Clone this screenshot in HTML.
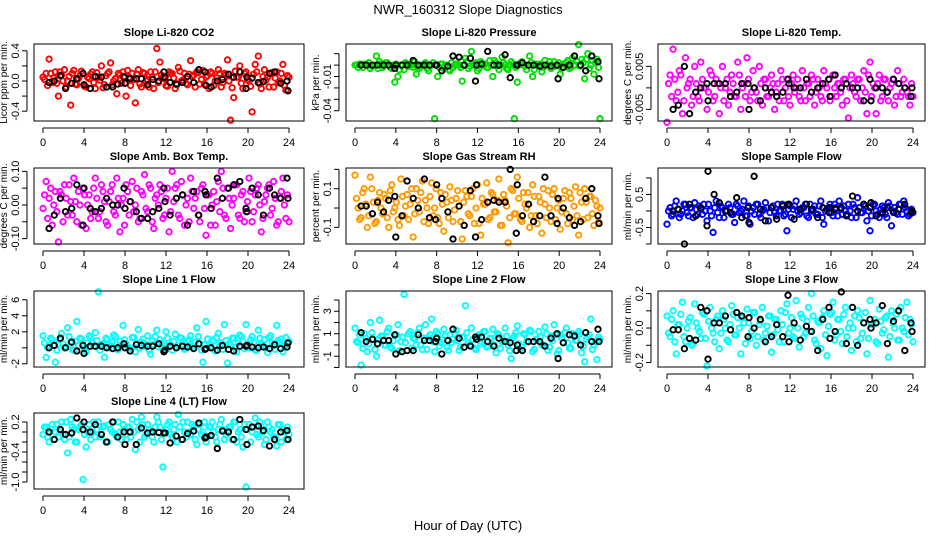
<!DOCTYPE html>
<html><head><meta charset="utf-8"><style>
body{margin:0;background:#fff}
svg{display:block;font-family:"Liberation Sans",sans-serif}
</style></head><body>
<svg id="chart" width="936" height="540" viewBox="0 0 936 540" xmlns="http://www.w3.org/2000/svg">
<rect width="936" height="540" fill="#fff"/>
<text x="468" y="14" text-anchor="middle" font-size="13">NWR_160312  Slope Diagnostics</text>
<text x="468" y="530" text-anchor="middle" font-size="13">Hour of Day (UTC)</text>
<g id="panels"></g>
</svg>
<script>
const hours = [0,0.3,0.6,0.9,1.2,1.5,1.8,2.1,2.4,2.7,3,3.3,3.6,3.9,4.2,4.5,4.8,5.1,5.4,5.7,6,6.3,6.6,6.9,7.2,7.5,7.8,8.1,8.4,8.7,9,9.3,9.6,9.9,10.2,10.5,10.8,11.1,11.4,11.7,12,12.3,12.6,12.9,13.2,13.5,13.8,14.1,14.4,14.7,15,15.3,15.6,15.9,16.2,16.5,16.8,17.1,17.4,17.7,18,18.3,18.6,18.9,19.2,19.5,19.8,20.1,20.4,20.7,21,21.3,21.6,21.9,22.2,22.5,22.8,23.1,23.4,23.7,24];
const coreHours = [0.15,0.45,0.75,1.05,1.35,1.65,1.95,2.25,2.55,2.85,3.15,3.45,3.75,4.05,4.35,4.65,4.95,5.25,5.55,5.85,6.15,6.45,6.75,7.05,7.35,7.65,7.95,8.25,8.55,8.85,9.15,9.45,9.75,10.05,10.35,10.65,10.95,11.25,11.55,11.85,12.15,12.45,12.75,13.05,13.35,13.65,13.95,14.25,14.55,14.85,15.15,15.45,15.75,16.05,16.35,16.65,16.95,17.25,17.55,17.85,18.15,18.45,18.75,19.05,19.35,19.65,19.95,20.25,20.55,20.85,21.15,21.45,21.75,22.05,22.35,22.65,22.95,23.25,23.55,23.85];
const blackHours = [0.6,1.1,1.7,2.2,2.8,3.3,3.9,4.0,4.6,5.1,5.7,6.2,6.8,7.3,7.9,8.0,8.5,9.1,9.6,10.2,10.7,11.3,11.8,11.9,12.4,13.0,13.6,14.1,14.7,15.2,15.8,15.9,16.4,17.0,17.5,18.1,18.6,19.2,19.8,19.9,20.4,21.0,21.5,22.1,22.6,23.2,23.8,23.9];
const xTicks = [0,4,8,12,16,20,24];
const titles = ["Slope Li-820 CO2","Slope Li-820 Pressure","Slope Li-820 Temp.","Slope Amb. Box Temp.","Slope Gas Stream RH","Slope Sample Flow","Slope Line 1 Flow","Slope Line 2 Flow","Slope Line 3 Flow","Slope Line 4 (LT) Flow"];
const yTitles = ["Licor ppm per min.","kPa per min.","degrees C per min.","degrees C per min.","percent per min.","ml/min per min.","ml/min per min.","ml/min per min.","ml/min per min.","ml/min per min."];
const colors = ["#ff0000","#00dd00","#ff00ff","#ff00ff","#ff9900","#0000ff","#00ffff","#00ffff","#00ffff","#00ffff"];
const yDomains = [[0.49,-0.53],[0.0185,-0.049],[0.0102,-0.0077],[0.11,-0.116],[0.207,-0.186],[1.3,-1.0],[7.1,-2.4],[4.8,-1.96],[0.215,-0.226],[0.38,-1.14]];
const yTicks = [[0.4,0.2,0,-0.2,-0.4],[0.01,0,-0.01,-0.02,-0.03,-0.04],[0.005,0,-0.005],[0.1,0.05,0,-0.05,-0.1],[0.2,0.1,0,-0.1],[1,0.5,0,-0.5,-1],[6,4,2,0,-2],[4,3,2,1,0,-1,-2],[0.2,0.1,0,-0.1,-0.2],[0.2,0,-0.2,-0.4,-0.6,-0.8,-1.0]];
const yTickLabels = [[[0.4,"0.4"],[0,"0.0"],[-0.4,"-0.4"]],[[-0.01,"-0.01"],[-0.04,"-0.04"]],[[0.005,"0.005"],[-0.005,"-0.005"]],[[0.1,"0.10"],[0,"0.00"],[-0.1,"-0.10"]],[[0.1,"0.1"],[-0.1,"-0.1"]],[[0.5,"0.5"],[-0.5,"-0.5"]],[[6,"6"],[4,"4"],[2,"2"],[-2,"-2"]],[[3,"3"],[1,"1"],[-1,"-1"]],[[0.2,"0.2"],[0,"0.0"],[-0.2,"-0.2"]],[[0.2,"0.2"],[-0.4,"-0.4"],[-1.0,"-1.0"]]];

const co2 = [0.05,0.1,0.29,-0.02,0.12,-0.2,0.08,0.15,0.0,-0.32,0.14,-0.05,0.07,0.1,-0.08,0.03,0.12,-0.1,0.05,0.2,-0.05,0.1,0.24,0.0,-0.17,0.08,0.12,-0.2,0.05,0.1,-0.29,0.15,-0.08,0.1,0.02,0.12,-0.1,0.43,0.25,0.05,-0.06,0.12,0.1,-0.1,0.18,0.0,0.1,-0.05,0.27,0.08,0.12,-0.04,0.14,0.05,-0.1,0.1,0.0,0.15,-0.08,0.1,0.28,-0.52,-0.22,0.05,0.2,-0.1,0.12,0.0,-0.41,0.22,0.33,-0.1,0.15,0.05,0.1,-0.08,0.12,0.0,0.22,-0.12,0.05];
const co2Core = [0.02,-0.06,0.1,0.04,-0.03,0.12,0.0,-0.08,0.06,0.1,-0.04,0.03,0.13,-0.07,0.05,0.09,-0.02,0.11,0.01,-0.09,0.07,0.12,-0.05,0.03,0.1,-0.03,0.06,0.14,-0.06,0.02,0.09,-0.04,0.11,0.0,-0.08,0.05,0.12,-0.02,0.08,0.03,-0.07,0.1,0.04,-0.05,0.13,0.01,-0.03,0.09,0.06,-0.08,0.11,0.02,-0.04,0.07,0.12,-0.06,0.04,0.1,-0.02,0.08,0.0,-0.09,0.13,0.05,-0.03,0.1,0.02,-0.07,0.09,0.12,-0.04,0.06,0.01,-0.08,0.11,0.04,-0.02,0.1,-0.06,0.07];
const co2Black = [-0.02,0.0,0.07,-0.1,-0.03,0.03,0.1,-0.05,-0.1,0.06,0.05,-0.08,-0.08,-0.04,0.05,-0.03,0.03,0.03,0.03,-0.05,0.02,0.0,0.12,0.05,-0.02,-0.04,-0.02,0.06,-0.02,0.15,0.12,-0.06,-0.08,0.0,0.02,0.09,0.05,0.12,-0.1,0.05,0.04,-0.02,-0.01,0.1,0.12,-0.03,0.0,-0.13];
const pres = [0,-0.002,0,0.001,0,-0.003,0,0.008,0.003,-0.002,0.002,0,-0.003,-0.015,-0.01,0,-0.004,0.001,0,-0.002,-0.008,-0.003,0,0.002,-0.005,0,-0.047,-0.01,0.001,-0.003,0,-0.005,-0.002,0.001,0,-0.014,0.006,-0.003,0.012,0,-0.005,0.003,0,-0.002,0.004,-0.01,0.002,-0.004,0.007,0,-0.004,0.003,-0.047,-0.015,0.002,0,-0.004,0.008,-0.01,0.001,0,-0.006,0.004,0,-0.003,0.003,0,-0.008,0.001,0.002,-0.003,0.006,0,0.018,0.005,-0.012,0.01,0,-0.008,0.005,-0.047];
const presCore = [0,0.001,-0.002,0,0.002,-0.001,0,-0.003,0.001,0,0.002,-0.002,0,0.001,-0.004,0,0.002,-0.001,0,0.003,-0.002,0,0.001,-0.003,0,0.002,0,-0.002,0.001,0,-0.004,0.002,0,0.001,-0.002,0,0.003,-0.001,0,0.002,-0.003,0,0.001,-0.002,0,0.004,-0.001,0,0.002,-0.003,0,0.001,-0.002,0,0.003,-0.001,0,0.002,-0.004,0,0.001,-0.002,0,0.003,0,-0.001,0.002,-0.003,0,0.004,-0.002,0,0.003,-0.001,0.002,0.005,-0.003,0.004,0.002,-0.002];
const presBlack = [0,0,0,0,0,0,-0.003,0,0,0,0.004,0,0,0,0,0,-0.005,-0.001,0.008,0.007,0,0.006,-0.014,0,0.001,0.012,0,0,0.009,-0.011,0,0,0.002,0,0,-0.001,0,-0.001,0,-0.012,-0.002,0,0.008,0,-0.005,0.008,0.003,-0.012];
const ltemp = [-0.008,0.003,0.009,-0.003,0.004,-0.006,0.007,0.001,-0.004,0.005,-0.002,0.006,0.0,-0.005,0.004,-0.003,0.002,-0.006,0.005,0.0,-0.004,0.003,-0.002,0.006,-0.005,0.001,0.007,-0.003,0.004,-0.001,0.005,-0.004,0.002,-0.002,0.003,-0.005,0.001,0.004,-0.003,0.002,-0.004,0.003,0.0,-0.002,0.004,-0.003,0.001,0.003,-0.004,0.002,-0.002,0.004,0.0,-0.003,0.003,-0.002,0.001,-0.004,0.002,-0.007,0.003,-0.001,0.002,-0.003,0.004,-0.006,0.006,0.001,-0.006,0.003,-0.002,0.002,-0.003,0.001,-0.004,0.004,-0.002,0.002,-0.001,-0.004,-0.002];
const ltempCore = [0.001,-0.002,0.002,-0.001,0.003,-0.003,0.0,0.002,-0.002,0.001,-0.003,0.002,0.0,-0.001,0.003,-0.002,0.001,0.0,-0.003,0.002,-0.001,0.001,-0.002,0.003,0.0,-0.002,0.002,-0.001,0.0,-0.003,0.001,0.002,-0.002,0.0,0.001,-0.001,-0.003,0.002,0.0,-0.002,0.001,-0.001,0.002,-0.003,0.0,0.001,-0.002,0.002,-0.001,0.0,-0.003,0.001,0.002,-0.002,0.0,0.001,-0.001,0.002,-0.003,0.0,0.001,-0.002,0.002,0.0,-0.001,0.003,-0.002,0.0,0.001,-0.003,0.002,-0.001,0.0,0.002,-0.002,0.001,-0.001,0.0,-0.002,0.001];
const ltempBlack = [-0.005,-0.004,0.005,-0.006,-0.001,0.0,0.001,-0.003,0.001,0.001,0.001,-0.002,-0.001,0.001,0.001,-0.005,0.0,-0.003,0.0,-0.001,-0.002,-0.001,0.002,0.001,0.0,0.0,0.002,-0.001,0.0,0.001,0.002,-0.002,0.003,0.0,0.001,0.0,0.0,-0.003,0.002,-0.003,0.0,0.0,-0.001,0.002,0.001,0.0,-0.002,0.0];
const btemp = [-0.01,0.07,0.02,-0.06,0.04,-0.11,0.03,0.06,-0.03,0.01,0.08,-0.05,0.0,0.05,-0.07,0.03,-0.02,0.08,-0.04,0.06,0.01,-0.06,0.04,-0.02,0.08,-0.08,0.02,0.06,-0.03,0.07,0.0,-0.05,0.04,0.09,-0.02,0.05,-0.07,0.03,0.06,-0.04,0.02,-0.08,0.1,0.05,-0.03,0.07,-0.06,0.02,0.08,-0.01,0.04,-0.05,0.06,-0.09,0.03,0.0,-0.06,0.07,0.1,-0.03,0.05,-0.07,0.02,0.06,-0.04,0.04,-0.02,0.08,-0.05,0.03,0.06,-0.08,0.01,0.05,-0.03,0.07,-0.06,0.02,0.08,-0.04,-0.05];
const btempCore = [0.03,-0.04,0.05,0.0,-0.02,0.04,-0.05,0.02,0.06,-0.03,0.01,0.04,-0.06,0.03,0.0,-0.04,0.05,0.02,-0.02,0.04,-0.05,0.01,0.06,-0.03,0.02,0.0,-0.06,0.04,0.01,-0.02,0.05,-0.04,0.03,-0.01,0.06,-0.05,0.02,0.0,0.04,-0.03,0.05,-0.02,0.01,0.06,-0.04,0.03,0.0,-0.05,0.04,0.02,-0.03,0.05,-0.01,0.03,-0.06,0.04,0.01,-0.02,0.05,-0.04,0.02,0.0,0.06,-0.03,0.03,-0.05,0.01,0.04,-0.02,0.05,0.0,-0.04,0.03,0.06,-0.01,0.02,-0.05,0.04,0.0,0.03];
const btempBlack = [-0.07,-0.03,0.02,-0.02,-0.01,0.06,-0.06,0.05,-0.01,-0.02,-0.01,0.02,0.0,0.0,0.05,-0.01,0.01,-0.02,-0.04,-0.04,-0.02,-0.01,0.05,0.01,-0.03,0.02,0.03,-0.06,0.04,-0.03,0.04,0.03,-0.01,0.08,0.02,0.05,0.06,0.07,-0.01,-0.02,0.05,0.03,-0.03,0.05,0.03,0.02,0.08,0.02];
const rh = [0.17,0.0,-0.05,0.1,-0.1,0.16,0.03,-0.07,0.08,-0.03,0.05,-0.1,0.12,0.0,-0.06,0.15,-0.04,0.07,0.02,-0.15,0.1,-0.02,0.14,0.04,-0.08,0.13,0.0,-0.05,0.08,-0.12,0.03,0.11,-0.07,0.05,0.01,-0.16,0.09,-0.03,0.06,-0.08,0.12,-0.14,0.02,0.13,-0.05,0.07,-0.02,0.15,-0.09,0.04,-0.18,0.1,-0.03,0.16,-0.06,0.08,0.0,-0.1,0.12,-0.04,0.06,-0.13,0.02,0.09,-0.07,0.1,0.0,-0.11,0.05,-0.03,0.08,-0.06,0.11,-0.14,0.03,0.1,-0.05,0.06,-0.09,0.01,0.0];
const rhCore = [0.05,-0.06,0.08,0.02,-0.04,0.1,-0.08,0.04,0.0,0.07,-0.05,0.09,-0.02,0.03,-0.09,0.06,0.01,-0.06,0.1,-0.03,0.04,0.08,-0.07,0.0,0.06,-0.04,0.1,-0.08,0.02,0.07,-0.05,0.04,-0.01,0.09,-0.07,0.03,0.06,-0.04,0.1,0.0,-0.08,0.05,0.02,-0.06,0.08,-0.02,0.04,-0.09,0.07,0.01,-0.05,0.09,-0.03,0.05,-0.07,0.02,0.08,-0.04,0.06,-0.08,0.03,0.1,-0.05,0.0,0.07,-0.06,0.04,-0.02,0.09,-0.08,0.05,0.01,-0.04,0.08,-0.06,0.03,0.06,-0.03,0.04,-0.07];
const rhBlack = [0.01,0.01,-0.03,0.03,-0.02,0.04,0.06,-0.15,-0.04,0.14,0.05,0.0,0.15,-0.05,-0.06,0.12,0.05,-0.02,-0.16,0.01,-0.09,0.09,-0.15,0.12,-0.06,0.03,0.04,0.03,0.03,0.2,-0.13,0.12,-0.04,0.02,-0.07,-0.04,0.16,-0.04,-0.08,0.05,0.0,-0.05,-0.09,-0.07,0.05,0.1,-0.04,-0.08];
const sflow = [-0.4,0.1,-0.1,0.3,-0.2,0.0,0.2,-0.15,0.1,0.25,-0.1,0.05,0.2,-0.3,0.0,-0.65,0.3,-0.2,0.1,0.0,0.2,-0.1,-0.35,0.15,0.0,0.3,-0.15,-0.4,0.1,0.2,-0.1,0.0,0.25,-0.3,0.1,-0.05,0.2,0.0,-0.15,-0.6,0.15,0.05,0.3,-0.1,0.1,0.2,-0.2,0.0,0.15,-0.1,0.3,-0.4,0.05,0.2,-0.15,0.1,0.3,-0.1,0.0,0.2,-0.2,0.1,0.4,-0.05,0.2,-0.3,-0.6,0.2,0.0,-0.2,0.15,-0.1,0.25,-0.45,0.1,-0.1,0.2,0.3,0.0,-0.1,-0.05];
const sflowCore = [0.0,-0.15,0.15,0.05,-0.1,0.2,-0.05,0.1,-0.2,0.05,0.15,-0.1,0.0,0.2,-0.15,0.1,-0.05,0.15,-0.2,0.0,0.1,-0.1,0.2,-0.05,0.05,-0.15,0.15,0.0,-0.1,0.2,-0.2,0.05,0.1,-0.05,0.15,-0.15,0.0,0.2,-0.1,0.05,-0.2,0.15,0.0,-0.05,0.1,-0.15,0.2,0.05,-0.1,0.15,-0.2,0.0,0.1,-0.05,0.2,-0.15,0.05,0.15,-0.1,0.0,0.2,-0.2,0.1,-0.05,0.15,0.0,-0.15,0.2,-0.1,0.05,0.1,-0.2,0.15,0.0,-0.05,0.2,-0.1,0.1,-0.15,0.05];
const sflowBlack = [0.0,0.05,-1.0,0.2,-0.15,0.1,-0.45,1.2,0.5,0.25,0.0,-0.05,0.4,-0.2,0.1,-0.35,1.05,0.05,-0.3,0.1,-0.25,0.15,0.2,0.2,-0.25,0.05,0.2,0.05,-0.2,0.1,-0.05,0.1,0.05,0.1,-0.15,0.45,0.0,0.2,0.1,0.25,-0.15,-0.05,0.1,-0.05,0.05,0.2,-0.05,0.0];
const l1 = [1.5,-1.2,0.3,1.0,-1.8,0.5,1.8,0.0,2.5,0.8,-0.3,3.3,1.2,0.2,-0.5,1.5,0.6,1.9,7.0,0.4,-1.2,1.0,0.3,1.6,-0.2,0.8,2.8,0.5,0.0,1.3,-0.5,2.3,0.7,0.2,1.5,-0.8,0.4,2.2,1.0,0.0,2.0,0.6,-0.3,1.7,0.3,1.2,-0.2,0.8,1.5,0.0,2.5,0.5,-1.8,3.3,0.2,1.0,-0.4,1.8,0.6,2.9,-1.9,0.3,1.2,-0.5,1.6,0.8,2.9,0.0,1.4,-0.3,2.2,0.5,1.0,-0.6,1.5,0.2,2.8,0.7,-0.5,1.3,0.8];
const l1Core = [0.6,0.0,1.2,0.3,-0.3,1.0,0.5,0.1,1.4,-0.2,0.8,0.3,1.1,-0.1,0.6,1.3,0.2,0.9,-0.3,0.5,1.2,0.0,0.7,1.4,-0.2,0.4,1.0,0.2,-0.1,1.3,0.6,0.0,1.1,0.4,-0.3,0.9,1.4,0.1,0.6,-0.2,1.2,0.3,0.8,0.0,1.3,0.5,-0.1,1.0,0.2,0.7,1.4,-0.3,0.4,1.1,0.0,0.8,1.3,0.2,-0.2,0.9,0.5,1.2,0.0,0.6,1.4,-0.1,0.3,1.0,0.7,-0.3,1.2,0.4,0.0,1.3,0.6,-0.2,0.9,1.1,0.2,0.5];
const l1Black = [0.0,0.3,1.2,0.0,0.7,-0.4,0.3,-0.7,0.2,0.2,0.2,0.0,-0.1,0.0,0.5,0.0,-0.4,0.4,0.3,0.2,0.2,0.5,-0.5,-0.3,0.2,0.0,0.2,0.1,-0.1,0.5,-0.2,-0.1,0.0,-0.3,0.3,-0.2,-0.4,0.2,0.2,0.3,0.1,0.0,0.1,-0.1,0.4,-0.1,0.1,0.6];
const l2 = [1.5,0.2,-1.8,1.0,-0.6,2.0,0.5,-1.0,2.2,0.8,0.0,1.5,-0.3,0.9,1.8,0.3,4.5,-0.5,1.2,0.6,0.0,1.5,-0.4,1.8,0.7,2.3,-0.6,1.0,0.2,1.4,-0.2,0.9,0.5,1.3,-0.5,0.7,3.5,0.2,1.5,-0.3,0.8,0.1,1.2,-0.2,0.6,1.4,-0.7,0.9,0.3,1.5,0.0,-1.2,0.8,1.7,-0.4,1.0,0.3,1.3,-0.6,0.5,1.2,0.0,1.6,-0.5,0.8,1.8,-0.8,0.9,0.2,1.5,-0.3,1.0,0.4,1.2,-0.7,-1.5,0.7,2.3,0.0,-1.3,0.5];
const l2Core = [0.3,0.9,-0.3,0.6,0.1,1.1,-0.4,0.5,0.8,0.0,1.2,-0.2,0.4,0.9,-0.5,0.7,0.2,1.0,-0.3,0.5,1.1,0.0,0.6,-0.4,0.9,0.3,1.2,-0.1,0.5,0.8,-0.5,0.2,1.0,0.4,-0.2,0.7,1.1,0.0,0.5,-0.4,0.9,0.3,1.2,-0.1,0.6,0.0,1.0,-0.3,0.4,0.8,-0.5,0.6,1.1,0.1,-0.2,0.9,0.3,1.2,-0.4,0.5,0.7,0.0,1.0,-0.2,0.4,0.9,-0.5,0.6,1.1,0.2,-0.3,0.8,0.4,1.0,-0.1,0.5,0.9,-0.4,0.3,0.7];
const l2Black = [1.1,0.3,0.5,0.1,0.4,0.4,0.9,-0.8,-0.6,-0.5,-0.5,0.9,0.4,0.4,0.3,0.6,-0.8,0.4,1.4,0.6,-0.2,-0.1,0.7,0.5,0.7,0.3,-0.1,0.6,0.3,0.2,-0.5,0.0,-0.5,0.3,0.3,0.3,-0.1,0.6,1.0,-1.2,0.2,0.9,0.8,0.0,1.1,0.3,1.4,0.3];
const l3 = [0.07,-0.05,0.1,-0.15,0.02,0.15,-0.08,0.04,-0.1,0.14,0.0,-0.06,0.08,-0.22,0.12,-0.03,0.05,-0.12,0.1,0.0,-0.08,0.13,-0.04,0.06,-0.15,0.03,0.11,-0.06,0.09,-0.1,0.02,0.12,-0.03,0.07,-0.14,0.05,-0.01,0.1,-0.08,0.14,0.0,-0.05,0.16,-0.11,0.06,-0.03,0.12,0.2,-0.07,0.04,-0.12,0.1,-0.16,0.08,0.15,-0.04,0.05,-0.09,0.12,0.0,-0.13,0.07,0.1,-0.06,0.03,-0.15,0.16,0.02,-0.08,0.11,-0.03,0.06,-0.17,0.1,0.0,-0.07,0.12,-0.02,0.15,0.05,-0.08];
const l3Core = [-0.03,0.05,-0.08,0.02,0.08,-0.05,0.0,0.06,-0.09,0.03,-0.02,0.09,-0.06,0.04,0.0,-0.08,0.07,-0.03,0.05,-0.07,0.02,0.08,-0.04,0.0,0.06,-0.09,0.03,-0.02,0.09,-0.05,0.04,-0.07,0.01,0.07,-0.04,0.05,-0.08,0.02,0.09,-0.03,0.06,-0.06,0.0,0.08,-0.05,0.04,-0.02,0.07,-0.09,0.03,0.06,-0.04,0.01,0.09,-0.07,0.05,-0.02,0.08,-0.05,0.03,0.0,-0.08,0.06,-0.03,0.09,-0.06,0.02,0.05,-0.09,0.04,-0.01,0.07,-0.05,0.03,0.08,-0.07,0.0,0.06,-0.04,0.02];
const l3Black = [-0.01,-0.01,-0.12,-0.06,-0.07,0.12,0.1,-0.18,0.03,0.03,0.07,-0.01,0.09,0.07,-0.05,0.06,0.0,0.05,-0.08,-0.05,0.02,-0.05,0.19,-0.08,0.03,-0.07,0.01,-0.02,-0.13,0.05,0.12,-0.06,-0.02,0.21,-0.09,0.12,-0.1,0.03,0.05,0.0,0.03,0.13,-0.09,0.04,0.1,-0.13,0.03,-0.02];
const l4 = [-0.05,0.1,-0.2,0.15,0.0,-0.1,0.2,-0.15,-0.42,0.25,0.05,-0.2,0.1,-0.95,-0.3,0.15,0.0,-0.1,0.2,-0.05,0.12,-0.2,0.05,0.2,-0.1,0.0,0.15,-0.15,0.1,0.25,-0.35,0.05,0.3,-0.1,0.15,0.0,-0.2,0.3,0.1,-0.7,0.05,0.2,-0.1,0.15,0.35,-0.15,0.0,0.2,-0.05,0.1,-0.25,0.15,0.0,-0.2,0.1,0.2,-0.1,0.05,0.25,-0.15,0.0,0.1,0.2,-0.2,0.05,-0.3,-1.1,0.15,0.0,0.28,-0.1,0.1,-0.25,0.2,0.0,-0.1,-0.28,0.15,0.05,-0.15,-0.05];
const l4Core = [0.1,-0.1,0.05,-0.15,0.15,0.0,-0.05,0.2,-0.1,0.1,-0.2,0.05,0.15,-0.05,0.0,-0.15,0.2,0.05,-0.1,0.1,-0.2,0.15,0.0,-0.05,0.2,-0.15,0.05,0.1,-0.1,0.0,0.2,-0.2,0.15,-0.05,0.05,-0.1,0.1,0.2,-0.15,0.0,0.15,-0.05,0.05,-0.2,0.1,0.2,-0.1,0.0,0.15,-0.15,0.05,-0.05,0.2,-0.1,0.1,0.0,-0.2,0.15,0.05,-0.05,0.1,-0.15,0.2,0.0,-0.1,0.15,0.05,-0.2,0.1,-0.05,0.2,0.0,-0.15,0.1,0.05,-0.1,0.15,-0.2,0.0,0.1];
const l4Black = [0.0,-0.15,0.05,-0.05,-0.02,0.28,0.05,0.2,0.0,0.15,-0.05,-0.2,0.2,-0.1,0.0,-0.25,0.0,-0.25,0.08,-0.02,0.0,-0.01,-0.02,-0.02,-0.22,-0.08,-0.15,-0.03,0.02,0.18,-0.12,-0.1,-0.07,-0.33,0.02,0.0,-0.15,0.25,0.05,-0.25,0.1,0.12,0.03,-0.28,-0.15,0.0,0.03,-0.15];

const seriesColored = [co2,pres,ltemp,btemp,rh,sflow,l1,l2,l3,l4];
const seriesCore = [co2Core,presCore,ltempCore,btempCore,rhCore,sflowCore,l1Core,l2Core,l3Core,l4Core];
const seriesBlack = [co2Black,presBlack,ltempBlack,btempBlack,rhBlack,sflowBlack,l1Black,l2Black,l3Black,l4Black];
const panelNames = ["co2","pressure","li-temp","box-temp","gas-rh","sample-flow","line1-flow","line2-flow","line3-flow","line4-flow"];

// layout
const colBox = [[34,304,43,289],[346,612,355,600],[658,925,667,913]];
const rowBox = [[44,121],[168,244],[291,367],[413,489]];
const NS = "http://www.w3.org/2000/svg";
const root = document.getElementById('panels');
function mk(tag, attrs, parent){const e=document.createElementNS(NS,tag);for(const k in attrs)e.setAttribute(k,attrs[k]);parent.appendChild(e);return e;}

for (let p=0;p<10;p++){
  const col=p%3,row=Math.floor(p/3);
  const [bl,br,x0,x24]=colBox[col];
  const [bt,bb]=rowBox[row];
  const [ytop,ybot]=yDomains[p];
  const xs=h=>x0+(x24-x0)*h/24;
  const ys=v=>bt+(ytop-v)/(ytop-ybot)*(bb-bt);
  const g=mk('g',{},root);
  
  
  const t=mk('text',{x:(bl+br)/2,y:bt-8,'text-anchor':'middle','font-size':'11','font-weight':'bold'},g);
  t.textContent=titles[p];
  
  
  const pts=mk('g',{fill:'none','stroke-width':'1.9'},g);
  
  
  const cv=seriesColored[p];
  for(let i=0;i<Math.min(cv.length,hours.length);i++){
    const c=mk('circle',{cx:xs(hours[i]).toFixed(1),cy:ys(cv[i]).toFixed(1),r:'2.7',stroke:colors[p]},pts);
    
    
  }
  const kv=seriesCore[p];
  for(let i=0;i<Math.min(kv.length,coreHours.length);i++){
    const c=mk('circle',{cx:xs(coreHours[i]).toFixed(1),cy:ys(kv[i]).toFixed(1),r:'2.7',stroke:colors[p]},pts);
    
    
  }
  const bv=seriesBlack[p];
  for(let i=0;i<Math.min(bv.length,blackHours.length);i++){
    const c=mk('circle',{cx:xs(blackHours[i]).toFixed(1),cy:ys(bv[i]).toFixed(1),r:'2.7',stroke:'#000'},pts);
    
    
  }
  const b=mk('rect',{x:bl,y:bt,width:br-bl,height:bb-bt,fill:'none',stroke:'#000','stroke-width':'1'},g);
  
  
  const xa=mk('g',{stroke:'#000','stroke-width':'1'},g);
  
  
  mk('line',{x1:xs(0),x2:xs(24),y1:bb+7,y2:bb+7},xa);
  xTicks.forEach(h=>{
    mk('line',{x1:xs(h),x2:xs(h),y1:bb+7,y2:bb+12},xa);
    const tx=mk('text',{x:xs(h),y:bb+25,'text-anchor':'middle','font-size':'11',stroke:'none',fill:'#000'},xa);
    tx.textContent=h;
    
    
  });
  const ya=mk('g',{stroke:'#000','stroke-width':'1'},g);
  
  
  const tk=yTicks[p];
  mk('line',{x1:bl-7,x2:bl-7,y1:ys(Math.max(...tk)),y2:ys(Math.min(...tk))},ya);
  tk.forEach(v=>mk('line',{x1:bl-12,x2:bl-7,y1:ys(v),y2:ys(v)},ya));
  yTickLabels[p].forEach(([v,s])=>{
    const yy=ys(v);
    const tx=mk('text',{x:bl-15,y:yy,'text-anchor':'middle','font-size':'11',stroke:'none',fill:'#000',transform:`rotate(-90 ${bl-15} ${yy})`},ya);
    tx.textContent=s;
    
    
  });
  const yl=mk('text',{x:bl-27,y:(bt+bb)/2,'text-anchor':'middle','font-size':'10',transform:`rotate(-90 ${bl-27} ${(bt+bb)/2})`},g);
  yl.textContent=yTitles[p];
  
  
}
</script>
</body></html>
